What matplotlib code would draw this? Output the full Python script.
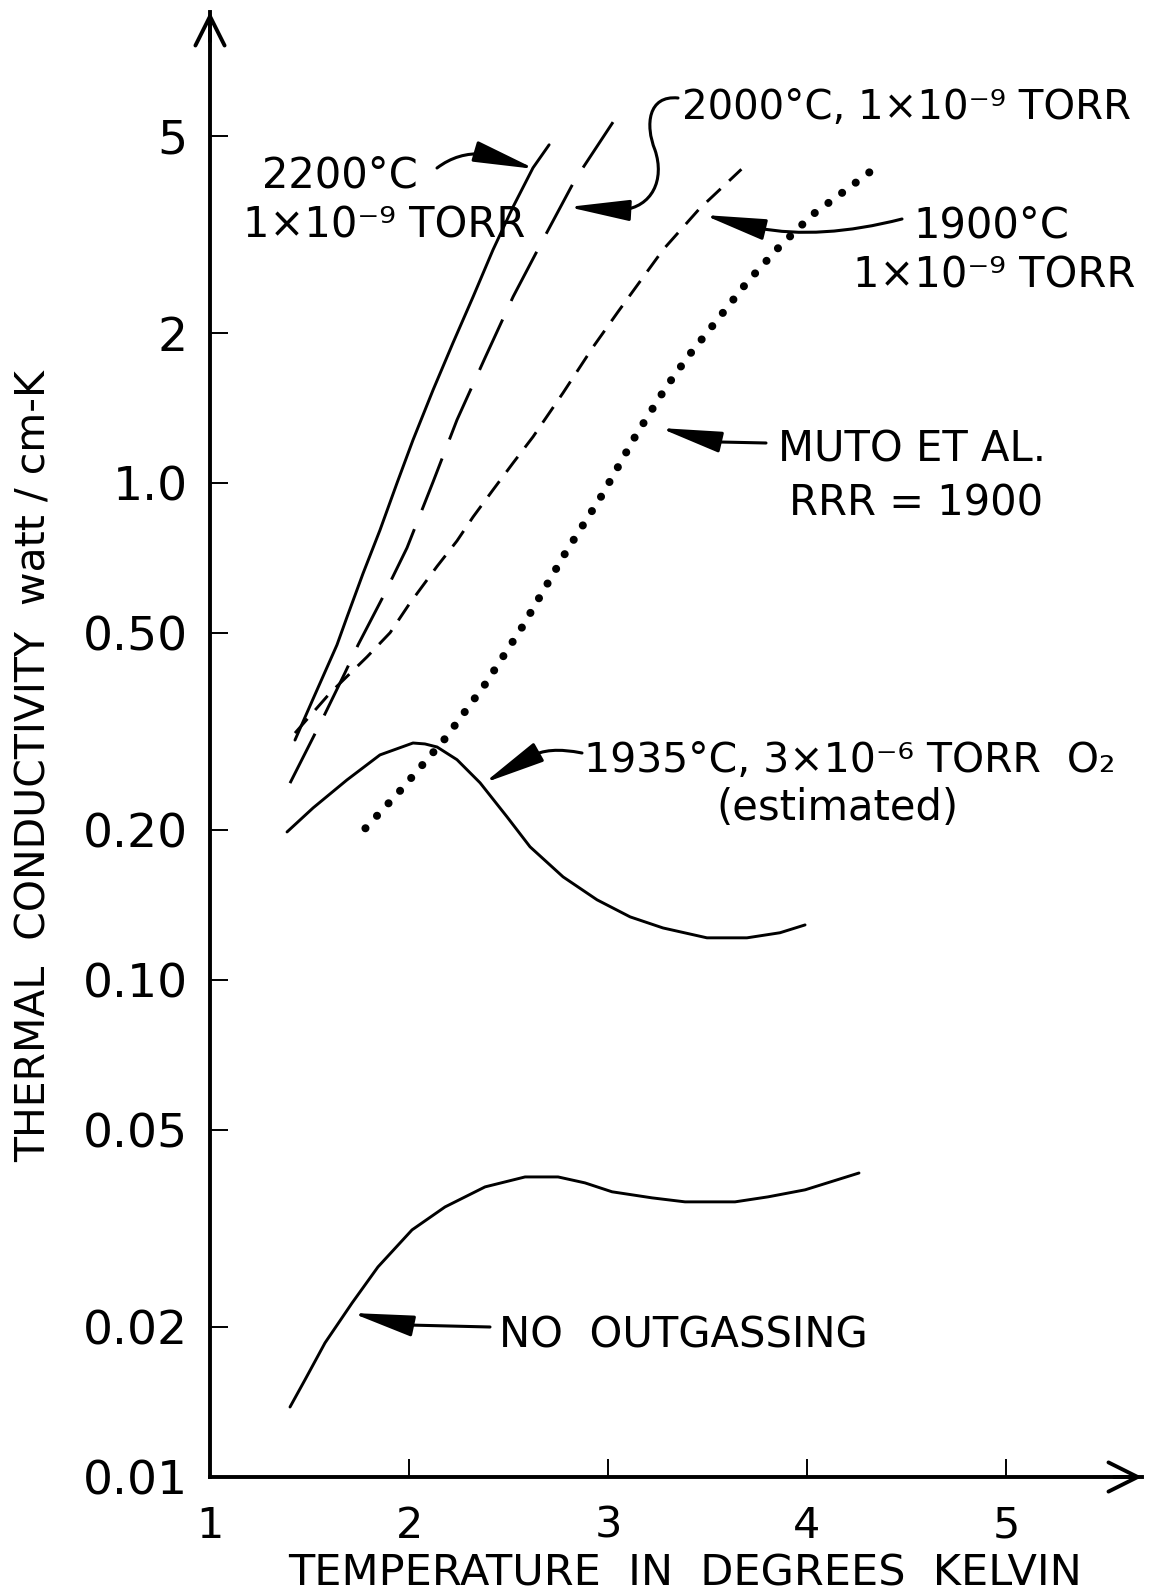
import numpy as np
import matplotlib
matplotlib.use("Agg")
import matplotlib.pyplot as plt
from matplotlib.path import Path
from matplotlib.patches import FancyArrowPatch

plt.rcParams['font.family'] = ['DejaVu Sans']

# ---------------- data ----------------
T_2200 = [1.427, 1.518, 1.638, 1.688, 1.769, 1.854, 1.940, 2.020, 2.121, 2.221, 2.322, 2.422, 2.523, 2.623, 2.704]
K_2200 = [0.304, 0.368, 0.4725, 0.537, 0.658, 0.804, 1.001, 1.221, 1.540, 1.915, 2.371, 2.947, 3.597, 4.309, 4.794]

T_2000 = [1.402, 1.568, 1.678, 1.744, 1.869, 1.990, 2.121, 2.241, 2.382, 2.523, 2.673, 2.834, 3.025]
K_2000 = [0.249, 0.337, 0.415, 0.4725, 0.590, 0.741, 1.006, 1.340, 1.787, 2.371, 3.087, 4.076, 5.325]

T_1900 = [1.427, 1.603, 1.704, 1.789, 1.905, 2.000, 2.141, 2.241, 2.322, 2.422, 2.523, 2.623, 2.774, 2.925, 3.050, 3.277, 3.458, 3.670]
K_1900 = [0.314, 0.378, 0.414, 0.447, 0.500, 0.570, 0.680, 0.765, 0.855, 0.969, 1.098, 1.239, 1.519, 1.879, 2.211, 2.95, 3.56, 4.28]

T_muto = [1.781, 1.962, 2.184, 2.385, 2.567, 2.788, 2.970, 3.141, 3.292, 3.403, 3.549, 3.700, 3.861, 4.028, 4.200, 4.360]
K_muto = [0.202, 0.242, 0.307, 0.395, 0.512, 0.726, 0.946, 1.25, 1.56, 1.80, 2.13, 2.54, 2.99, 3.47, 3.90, 4.36]

T_1935 = [1.387, 1.518, 1.688, 1.854, 2.020, 2.080, 2.141, 2.241, 2.357, 2.492, 2.608, 2.774, 2.945, 3.111, 3.276, 3.497, 3.698, 3.864, 3.990]
K_1935 = [0.1986, 0.2220, 0.2527, 0.2838, 0.2999, 0.2986, 0.2944, 0.2776, 0.2494, 0.2131, 0.1854, 0.1613, 0.1450, 0.1340, 0.1273, 0.1216, 0.1216, 0.1245, 0.1291]

T_noout = [1.402, 1.477, 1.578, 1.714, 1.844, 2.015, 2.181, 2.382, 2.583, 2.749, 2.884, 3.020, 3.221, 3.387, 3.638, 3.804, 3.990, 4.261]
K_noout = [0.01383, 0.01568, 0.01862, 0.02240, 0.02647, 0.03142, 0.03495, 0.03835, 0.04016, 0.04016, 0.03907, 0.03749, 0.03645, 0.03578, 0.03578, 0.03662, 0.03783, 0.04090]

y_ticks = [0.01, 0.02, 0.05, 0.10, 0.20, 0.50, 1.0, 2, 5]
y_tick_labels = ["0.01", "0.02", "0.05", "0.10", "0.20", "0.50", "1.0", "2", "5"]
x_ticks = [1, 2, 3, 4, 5]
x_tick_labels = ["1", "2", "3", "4", "5"]

# ---------------- figure ----------------
W, H = 1151, 1592
fig = plt.figure(figsize=(W / 100, H / 100), dpi=100)
ax_l, ax_r, ax_b, ax_t = 210, 1142, 1477, 12
ax = fig.add_axes([ax_l / W, 1 - ax_b / H, (ax_r - ax_l) / W, (ax_b - ax_t) / H])
ax.set_yscale('log')
ax.set_xlim(1, 5.683)
ax.set_ylim(0.01, 8.87)

for s in ['top', 'right']:
    ax.spines[s].set_visible(False)
for s in ['left', 'bottom']:
    ax.spines[s].set_linewidth(2.8)

ax.set_yticks(y_ticks)
ax.set_yticklabels(y_tick_labels)
ax.set_xticks(x_ticks)
ax.set_xticklabels(x_tick_labels)
ax.minorticks_off()
ax.tick_params(axis='both', direction='in', length=13, width=1.4)
ax.tick_params(axis='y', pad=16, labelsize=34)
ax.tick_params(axis='x', pad=20, labelsize=31)

# axis arrows
ax.annotate('', xy=(1.0, 0), xytext=(0.97, 0), xycoords='axes fraction',
            arrowprops=dict(arrowstyle='->,head_length=0.6,head_width=0.3', lw=2.8,
                            mutation_scale=35, shrinkA=0, shrinkB=0))
ax.annotate('', xy=(0, 1.0), xytext=(0, 0.98), xycoords='axes fraction',
            arrowprops=dict(arrowstyle='->,head_length=0.6,head_width=0.3', lw=2.8,
                            mutation_scale=35, shrinkA=0, shrinkB=0))

# ---------------- curves ----------------
lw = 2.1
ax.plot(T_2200, K_2200, color='black', lw=lw, solid_capstyle='round', solid_joinstyle='round')
ax.plot(T_2000, K_2000, color='black', lw=lw, linestyle=(0, (19, 7)))
ax.plot(T_1900, K_1900, color='black', lw=lw, linestyle=(0, (6.5, 4)))
ax.plot(T_muto, K_muto, color='black', lw=5.8, linestyle=(0, (0.01, 2.1)),
        dash_capstyle='round')
ax.plot(T_1935, K_1935, color='black', lw=lw, solid_capstyle='round', solid_joinstyle='round')
ax.plot(T_noout, K_noout, color='black', lw=lw, solid_capstyle='round', solid_joinstyle='round')

# ---------------- annotations ----------------
fig.canvas.draw()
inv = ax.transData.inverted()


def P(x, y):
    """reference pixel position -> data coordinates"""
    return tuple(inv.transform((x, H - y)))


fs = 30
text_kw = dict(fontsize=fs, color='black')

def txt(x, y, s, ha='left', size=fs):
    ax.text(*P(x, y), s, ha=ha, va='baseline', fontsize=size, color='black')

txt(262, 187, "2200°C")
txt(243, 237, "1×10⁻⁹ TORR")
txt(682, 119, "2000°C, 1×10⁻⁹ TORR", size=29)
txt(991, 237, "1900°C", ha='center')
txt(994, 287, "1×10⁻⁹ TORR", ha='center')
txt(912, 462, "MUTO ET AL.", ha='center')
txt(916, 515, "RRR = 1900", ha='center')
txt(584, 772, "1935°C, 3×10⁻⁶ TORR  O₂", size=29.5)
txt(837, 820, "(estimated)", ha='center')
txt(499, 1347, "NO  OUTGASSING")

astyle = '-|>,head_length=3.8,head_width=0.65'

def arrow(verts, codes):
    path = Path([P(*v) for v in verts], codes)
    a = FancyArrowPatch(path=path, arrowstyle=astyle, mutation_scale=10,
                        color='black', lw=2.2, transform=ax.transData)
    ax.add_patch(a)

M, L, C3, C4 = Path.MOVETO, Path.LINETO, Path.CURVE3, Path.CURVE4

arrow([(437, 168), (458, 152), (484, 154), (535, 169)], [M, C3, C3, L])
arrow([(678, 98), (648, 95), (645, 125), (655, 150), (665, 180), (652, 207), (622, 210), (568, 207)],
      [M, C4, C4, C4, C4, C4, C4, L])
arrow([(902, 219), (820, 240), (758, 228), (704, 215)], [M, C3, C3, L])
arrow([(766, 443), (720, 442), (660, 428)], [M, L, L])
arrow([(582, 753), (548, 746), (530, 757), (484, 783)], [M, C3, C3, L])
arrow([(490, 1327), (408, 1325), (352, 1313)], [M, L, L])

# axis titles
fig.text(685 / W, 1 - 1585 / H, "TEMPERATURE  IN  DEGREES  KELVIN", ha='center',
         va='baseline', fontsize=31)
fig.text(35 / W, 1 - 766 / H, "THERMAL  CONDUCTIVITY  watt / cm-K", ha='center',
         va='center', rotation=90, fontsize=29.5)

fig.savefig('out.png', dpi=100)
